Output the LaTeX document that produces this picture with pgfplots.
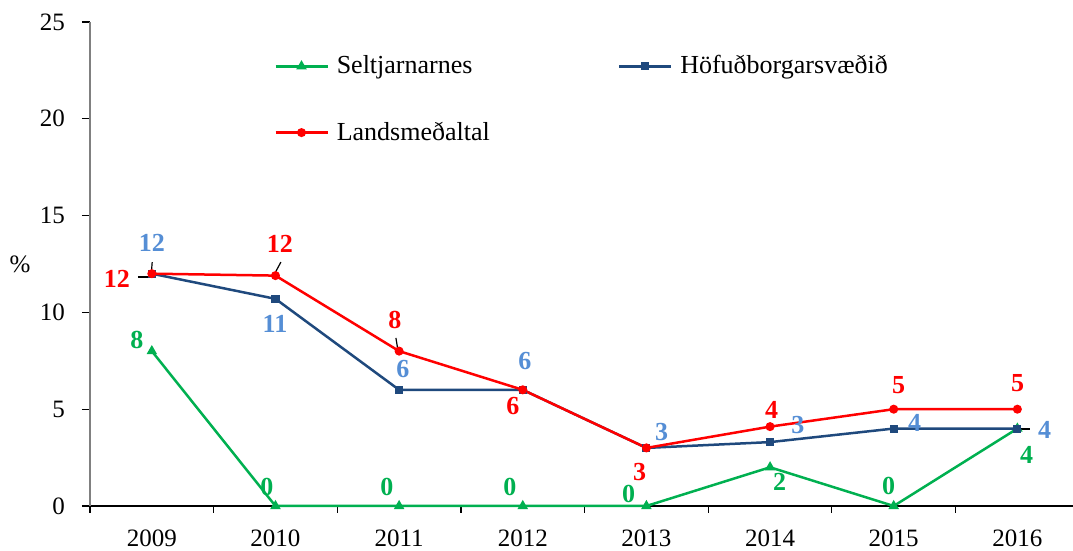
\documentclass[border=0pt]{standalone}
\usepackage{fontspec}
\setmainfont{Liberation Serif}
\usepackage{pgfplots}
\pgfplotsset{compat=1.18}
\definecolor{cgreen}{RGB}{0,176,80}
\definecolor{cblue}{RGB}{31,73,125}
\definecolor{cred}{RGB}{255,0,0}
\definecolor{clblue}{RGB}{85,142,213}
\definecolor{caxis}{RGB}{128,128,128}
\begin{document}
\begin{tikzpicture}
\begin{axis}[
  scale only axis,
  width=491.5pt, height=242pt,
  xmin=-0.5, xmax=7.45, ymin=0, ymax=25,
  axis lines*=left,
  x axis line style={black, line width=0.6pt},
  y axis line style={caxis, line width=0.7pt},
  xtick={0,...,7},
  xticklabels={2009,2010,2011,2012,2013,2014,2015,2016},
  minor xtick={-0.5,0.5,1.5,...,6.5},
  major x tick style={draw=none},
  minor x tick style={black, line width=0.6pt},
  minor tick length=3.5pt,
  ytick={0,5,...,25},
  major y tick style={black, line width=0.6pt},
  major tick length=4pt,
  tick align=outside,
  tick label style={font=\fontsize{12.5}{14}\selectfont},
  /pgf/number format/assume math mode=true,
  xticklabel style={inner sep=1pt, yshift=-6.5pt},
  yticklabel style={xshift=-5pt},
  ylabel={\%},
  every axis y label/.style={at={(rel axis cs:0,0.5)}, anchor=center, xshift=-35pt, font=\fontsize{12.5}{14}\selectfont},
  legend columns=2,
  legend cell align=left,
  legend style={draw=none, fill=none, at={(axis cs:0.987,21.0)}, anchor=west,
    font=\fontsize{13}{15}\selectfont, inner sep=0pt,
    row sep=18.5pt, column sep=2pt,
    /tikz/column 2/.style={column sep=62pt}},
  legend image code/.code={\draw[mark repeat=2,mark phase=2,#1] plot coordinates {(0pt,0pt) (13pt,0pt) (26pt,0pt)};},
  clip=false,
]
\addplot[cgreen, line width=1.25pt, mark=triangle*, mark size=1.8pt] coordinates {
 (0,8) (1,0) (2,0) (3,0) (4,0) (5,2) (6,0) (7,4)};
\addlegendentry{Seltjarnarnes}
\addplot[cblue, line width=1.25pt, mark=square*, mark size=1.4pt] coordinates {
 (0,12) (1,10.7) (2,6) (3,6) (4,3) (5,3.3) (6,4) (7,4)};
\addlegendentry{Höfuðborgarsvæðið}
\addplot[cred, line width=1.25pt, mark=*, mark size=1.6pt] coordinates {
 (0,12) (1,11.9) (2,8) (3,6) (4,3) (5,4.1) (6,5) (7,5)};
\addlegendentry{Landsmeðaltal}

% leader lines
\draw[black, line width=0.6pt] (axis cs:-0.112,11.83) -- (axis cs:-0.015,11.83);
\draw[black, line width=0.6pt] (axis cs:0.003,12.60) -- (axis cs:-0.005,11.93);
\draw[black, line width=0.6pt] (axis cs:0.996,12.03) -- (axis cs:1.044,12.60);
\draw[black, line width=0.6pt] (axis cs:1.974,8.68) -- (axis cs:1.990,8.06);
\draw[black, line width=0.6pt] (axis cs:6.994,3.98) -- (axis cs:7.099,3.98);

\begin{scope}[every node/.style={font=\fontsize{13}{15}\selectfont\bfseries, inner sep=0pt}]
% green labels
\node[text=cgreen] at (axis cs:-0.120,8.57) {8};
\node[text=cgreen] at (axis cs:0.931,0.98) {0};
\node[text=cgreen] at (axis cs:1.901,0.98) {0};
\node[text=cgreen] at (axis cs:2.895,0.98) {0};
\node[text=cgreen] at (axis cs:3.857,0.60) {0};
\node[text=cgreen] at (axis cs:5.078,1.24) {2};
\node[text=cgreen] at (axis cs:5.959,1.05) {0};
\node[text=cgreen] at (axis cs:7.075,2.63) {4};
% blue labels
\node[text=clblue] at (axis cs:0.001,13.58) {12};
\node[text=clblue] at (axis cs:0.996,9.40) {11};
\node[text=clblue] at (axis cs:2.030,7.08) {6};
\node[text=clblue] at (axis cs:3.017,7.49) {6};
\node[text=clblue] at (axis cs:4.124,3.82) {3};
\node[text=clblue] at (axis cs:5.224,4.18) {3};
\node[text=clblue] at (axis cs:6.169,4.29) {4};
\node[text=clblue] at (axis cs:7.220,3.93) {4};
% red labels
\node[text=cred] at (axis cs:-0.282,11.73) {12};
\node[text=cred] at (axis cs:1.036,13.53) {12};
\node[text=cred] at (axis cs:1.966,9.61) {8};
\node[text=cred] at (axis cs:2.920,5.16) {6};
\node[text=cred] at (axis cs:3.946,1.76) {3};
\node[text=cred] at (axis cs:5.013,4.96) {4};
\node[text=cred] at (axis cs:6.040,6.25) {5};
\node[text=cred] at (axis cs:7.002,6.35) {5};
\end{scope}
\end{axis}
\pgfresetboundingbox
\path[use as bounding box] (-45pt,-22.5pt) rectangle (491.5pt,253pt);
\end{tikzpicture}
\end{document}
